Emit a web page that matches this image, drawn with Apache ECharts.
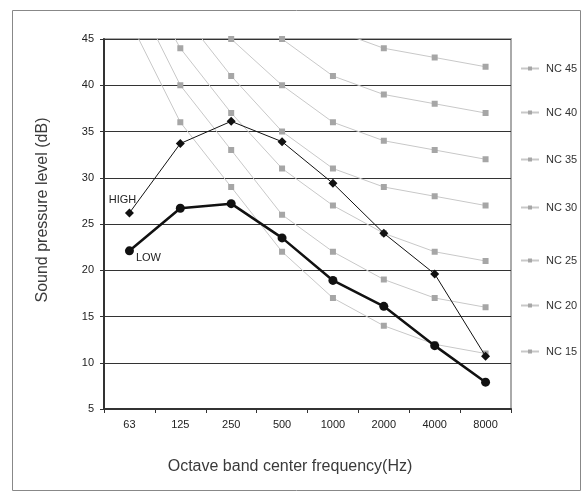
<!DOCTYPE html>
<html><head><meta charset="utf-8">
<script src="https://cdn.jsdelivr.net/npm/echarts@6/dist/echarts.min.js"></script>
<style>html,body{margin:0;padding:0;background:#fff}#c{width:581px;height:501px}</style>
</head><body><div id="c"></div>
<script>
const categories = ['63','125','250','500','1000','2000','4000','8000'];
const high = [26.2, 33.7, 36.1, 33.9, 29.4, 24.0, 19.6, 10.7];
const low = [22.1, 26.7, 27.2, 23.5, 18.9, 16.1, 11.85, 7.9];
const nc45 = [67, 60, 54, 49, 46, 44, 43, 42];
const nc40 = [64, 56, 50, 45, 41, 39, 38, 37];
const nc35 = [60, 52, 45, 40, 36, 34, 33, 32];
const nc30 = [57, 48, 41, 35, 31, 29, 28, 27];
const nc25 = [54, 44, 37, 31, 27, 24, 22, 21];
const nc20 = [51, 40, 33, 26, 22, 19, 17, 16];
const nc15 = [47, 36, 29, 22, 17, 14, 12, 11];
const ncNames = ['NC 45','NC 40','NC 35','NC 30','NC 25','NC 20','NC 15'];
const ncData = [nc45, nc40, nc35, nc30, nc25, nc20, nc15];
const yTicks = [5, 45, 5]; // min, max, interval
const xTitle = 'Octave band center frequency(Hz)';
const yTitle = 'Sound pressure level (dB)';

const font = 'Liberation Sans, Arial, sans-serif';
const legendCenters = [69, 113, 160, 208, 261, 306, 352];
const chart = echarts.init(document.getElementById('c'), null, {renderer:'canvas'});
const ncSeries = ncNames.map((n, i) => ({
  name: n, type: 'line', data: ncData[i], clip: true,
  symbol: 'rect', symbolSize: 6,
  lineStyle: {color: '#c8c8c8', width: 1},
  itemStyle: {color: '#a6a6a6'},
  z: 2, silent: true
}));
const legends = ncNames.map((n, i) => ({
  orient: 'vertical', left: 520, top: legendCenters[i] - 6, padding: 0,
  itemWidth: 18, itemHeight: 5,
  data: [n], textStyle: {color: '#333', fontSize: 11, fontFamily: font, padding: [0, 0, 0, 2]},
  selectedMode: false
}));
chart.setOption({
  animation: false,
  textStyle: {fontFamily: font},
  graphic: [
    {type:'rect', shape:{x:12.5,y:10.5,width:568,height:480}, style:{fill:'none', stroke:'#888', lineWidth:1}},
    {type:'text', x: 43, y: 210, rotation: Math.PI / 2,
     style:{text: yTitle, fill:'#3a3a3a', font: '16px ' + font, textAlign:'center', textVerticalAlign:'middle'}},
    {type:'text', x: 290, y: 467,
     style:{text: xTitle, fill:'#3a3a3a', font: '16px ' + font, textAlign:'center', textVerticalAlign:'middle'}}
  ],
  grid: {left: 104, top: 39, right: 70, bottom: 92, show: true, borderColor: '#aaa', borderWidth: 2},
  legend: legends,
  xAxis: {
    type: 'category', data: categories, boundaryGap: true,
    axisLine: {lineStyle: {color: '#333', width: 2}},
    axisTick: {show: true, length: 4, lineStyle: {color: '#333'}},
    axisLabel: {color: '#222', fontSize: 11, margin: 10, fontFamily: font},
    splitLine: {show: false}
  },
  yAxis: {
    type: 'value', min: yTicks[0], max: yTicks[1], interval: yTicks[2],
    axisLine: {show: true, lineStyle: {color: '#333', width: 2}},
    axisTick: {show: true, length: 4, lineStyle: {color: '#333'}},
    axisLabel: {color: '#222', fontSize: 11, margin: 10, fontFamily: font},
    splitLine: {show: true, lineStyle: {color: '#333', width: 1}}
  },
  series: ncSeries.concat([
    {
      name: 'HIGH', type: 'line', symbol: 'diamond', symbolSize: 9, z: 5,
      data: high.map((v, i) => i === 0 ? {value: v, label: {show: true, formatter: 'HIGH', position: 'top', offset: [-7, 2], color: '#222', fontSize: 11, fontFamily: font}} : v),
      lineStyle: {color: '#111', width: 1}, itemStyle: {color: '#111'}
    },
    {
      name: 'LOW', type: 'line', symbol: 'circle', symbolSize: 9, z: 5,
      data: low.map((v, i) => i === 0 ? {value: v, label: {show: true, formatter: 'LOW', position: 'right', offset: [-3, 7], color: '#222', fontSize: 11, fontFamily: font}} : v),
      lineStyle: {color: '#111', width: 2.5}, itemStyle: {color: '#111'}
    }
  ])
});
</script></body></html>
